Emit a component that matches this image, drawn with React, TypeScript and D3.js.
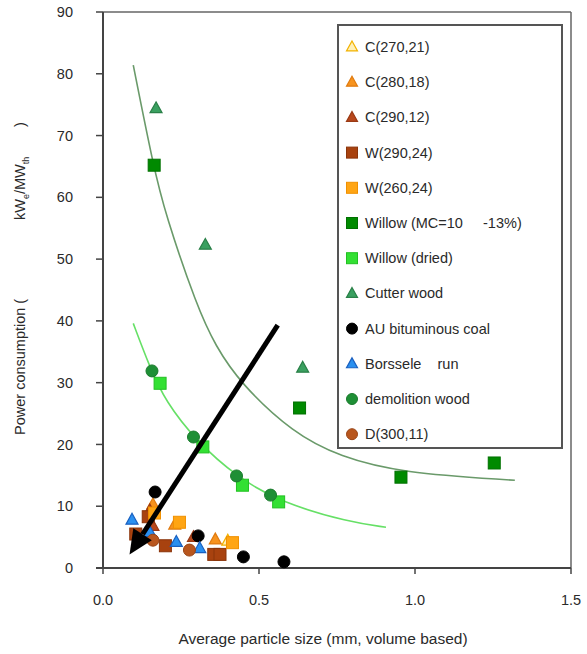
import React from 'react';
import * as d3 from 'd3';

const W = 587;
const H = 654;
const margin = { left: 103, top: 12, right: 16, bottom: 86 };

const xTicks = [0, 0.5, 1.0, 1.5];
const yTicks = [0, 10, 20, 30, 40, 50, 60, 70, 80, 90];

// points, [size, power]
const c270 = [[0.40, 4.4]];
const c280 = [[0.16, 10.3], [0.23, 7.0], [0.36, 4.6]];
const c290 = [[0.15, 9.3], [0.16, 6.8], [0.29, 5.0]];
const w290 = [[0.145, 8.3], [0.105, 5.5], [0.2, 3.6], [0.355, 2.2], [0.375, 2.2]];
const w260 = [[0.165, 8.9], [0.245, 7.4], [0.415, 4.1]];
const willowMC = [[0.164, 65.2], [0.63, 25.9], [0.955, 14.7], [1.254, 17.0]];
const willowDried = [[0.183, 29.9], [0.32, 19.6], [0.447, 13.4], [0.563, 10.7]];
const cutter = [[0.17, 74.4], [0.328, 52.3], [0.64, 32.4]];
const auCoal = [[0.167, 12.3], [0.305, 5.2], [0.45, 1.8], [0.58, 1.0]];
const borssele = [[0.093, 7.8], [0.15, 5.8], [0.235, 4.2], [0.31, 3.2]];
const demolition = [[0.157, 31.9], [0.29, 21.2], [0.428, 14.9], [0.537, 11.8]];
const d300 = [[0.16, 4.5], [0.277, 2.9]];

// trend lines
const trendWet = [[0.097, 81.4], [0.161, 65.2], [0.199, 57.4], [0.302, 42.2], [0.36, 36.0],
  [0.44, 29.9], [0.61, 21.8], [0.76, 18.0], [0.955, 15.4], [1.32, 14.2]];
const trendDry = [[0.097, 39.6], [0.15, 32.5], [0.2, 27.0], [0.3, 20.5], [0.43, 14.7],
  [0.57, 10.6], [0.79, 7.4], [0.907, 6.6]];

const arrowFrom = [0.56, 39.3];
const arrowTo = [0.085, 2.2];

const series = [
  { name: 'C(270,21)', data: c270, shape: 'tri', fill: '#fff0b8', stroke: '#f2b200' },
  { name: 'C(280,18)', data: c280, shape: 'tri', fill: '#f7931e', stroke: '#e07b10' },
  { name: 'C(290,12)', data: c290, shape: 'tri', fill: '#b8481c', stroke: '#9a3a14' },
  { name: 'W(290,24)', data: w290, shape: 'sq', fill: '#a8420f', stroke: '#8a340a' },
  { name: 'W(260,24)', data: w260, shape: 'sq', fill: '#ffa514', stroke: '#f09000' },
  { name: 'Willow (MC=10     -13%)', data: willowMC, shape: 'sq', fill: '#008a00', stroke: '#007000' },
  { name: 'Willow (dried)', data: willowDried, shape: 'sq', fill: '#33e033', stroke: '#22c022' },
  { name: 'Cutter wood', data: cutter, shape: 'tri', fill: '#3aa060', stroke: '#2a8048' },
  { name: 'AU bituminous coal', data: auCoal, shape: 'circ', fill: '#000000', stroke: '#000000' },
  { name: 'Borssele    run', data: borssele, shape: 'tri', fill: '#2a90f0', stroke: '#1a60c0' },
  { name: 'demolition wood', data: demolition, shape: 'circ', fill: '#1e8f35', stroke: '#1a7a2c' },
  { name: 'D(300,11)', data: d300, shape: 'circ', fill: '#b8561e', stroke: '#9a4414' },
];

function Marker({ shape, x, y, fill, stroke, s }) {
  if (shape === 'sq') {
    return <rect x={x - s / 2} y={y - s / 2} width={s} height={s} fill={fill} stroke={stroke} strokeWidth={1} />;
  }
  if (shape === 'circ') {
    return <circle cx={x} cy={y} r={s / 2} fill={fill} stroke={stroke} strokeWidth={1} />;
  }
  const h = s * 0.9;
  const pts = [[x, y - h * 0.6], [x + s / 2, y + h * 0.4], [x - s / 2, y + h * 0.4]];
  return <polygon points={pts.map(p => p.join(',')).join(' ')} fill={fill} stroke={stroke} strokeWidth={1.2} />;
}

export default function App() {
  const x = d3.scaleLinear().domain([0, 1.5]).range([margin.left, W - margin.right]);
  const y = d3.scaleLinear().domain([0, 90]).range([H - margin.bottom, margin.top]);

  const line = d3.line()
    .x(d => x(d[0]))
    .y(d => y(d[1]))
    .curve(d3.curveBasis);

  // arrow geometry from the scales
  const ax1 = x(arrowFrom[0]), ay1 = y(arrowFrom[1]);
  const ax2 = x(arrowTo[0]), ay2 = y(arrowTo[1]);
  const ang = Math.atan2(ay2 - ay1, ax2 - ax1);
  const headLen = 24, headW = 11;
  const bx = ax2 - headLen * Math.cos(ang), by = ay2 - headLen * Math.sin(ang);
  const head = [
    [ax2, ay2],
    [bx + headW * Math.sin(ang), by - headW * Math.cos(ang)],
    [bx - headW * Math.sin(ang), by + headW * Math.cos(ang)],
  ];

  const legX = 338, legY = 25, legW = 224, legH = 423;
  const legStep = 35.2;

  const x0 = x(0), x1 = x(1.5), y0 = y(0), y1 = y(90);

  return (
    <svg width={W} height={H} style={{ display: 'block', position: 'absolute', left: 0, top: 0, background: '#fff' }}
      fontFamily="'Liberation Sans', Arial, sans-serif">
      {/* frame */}
      <line x1={x0} x2={x1} y1={y1} y2={y1} stroke="#666" strokeWidth={1.5} />
      <line x1={x1} x2={x1} y1={y1} y2={y0} stroke="#666" strokeWidth={1.5} />
      <line x1={x0} x2={x0} y1={y1} y2={y0} stroke="#444" strokeWidth={2} />
      <line x1={x0 - 7} x2={x1} y1={y0} y2={y0} stroke="#444" strokeWidth={2} />

      {yTicks.map(t => (
        <g key={'y' + t}>
          <line x1={x0 - 7} x2={x0} y1={y(t)} y2={y(t)} stroke="#444" strokeWidth={1.5} />
          <text x={x0 - 30} y={y(t)} dy="0.35em" textAnchor="end" fontSize={14.5} fill="#2a2a2a">{t}</text>
        </g>
      ))}
      {xTicks.map(t => (
        <g key={'x' + t}>
          <line x1={x(t)} x2={x(t)} y1={y0} y2={y0 + 6} stroke="#444" strokeWidth={1.5} />
          <text x={x(t)} y={y0 + 37} textAnchor="middle" fontSize={14.5} fill="#2a2a2a">{t.toFixed(1)}</text>
        </g>
      ))}

      <text x={323} y={644} textAnchor="middle" fontSize={15.5} fill="#2a2a2a">
        Average particle size (mm, volume based)
      </text>

      <g transform="translate(25,435) rotate(-90)" fill="#2a2a2a" fontSize={14.5}>
        <text x={0} y={0}>Power consumption (</text>
      </g>
      <g transform="translate(25,220) rotate(-90)" fill="#2a2a2a" fontSize={14.5}>
        <text x={0} y={0}>kW<tspan fontSize={9} dy={4}>e</tspan><tspan dy={-4}>/MW</tspan><tspan fontSize={9} dy={4}>th</tspan></text>
      </g>
      <g transform="translate(25,127) rotate(-90)" fill="#2a2a2a" fontSize={14.5}>
        <text x={0} y={0}>)</text>
      </g>

      {/* trend lines */}
      <path d={line(trendWet)} fill="none" stroke="#6a9a6a" strokeWidth={1.6} />
      <path d={line(trendDry)} fill="none" stroke="#66e066" strokeWidth={1.6} />

      {/* points */}
      {series.map(s => s.data.map((d, i) => (
        <Marker key={s.name + i} shape={s.shape} x={x(d[0])} y={y(d[1])} fill={s.fill} stroke={s.stroke} s={12} />
      )))}

      {/* arrow */}
      <line x1={ax1} y1={ay1} x2={bx} y2={by} stroke="#000" strokeWidth={5} />
      <polygon points={head.map(p => p.join(',')).join(' ')} fill="#000" />

      {/* legend */}
      <rect x={legX} y={legY} width={legW} height={legH} fill="#fff" stroke="#555" strokeWidth={2} />
      {series.map((s, i) => {
        const cy = legY + 22 + i * legStep;
        return (
          <g key={'leg' + i}>
            <Marker shape={s.shape} x={352} y={cy} fill={s.fill} stroke={s.stroke} s={11} />
            <text x={365} y={cy} dy="0.35em" fontSize={14.5} fill="#2a2a2a" style={{ whiteSpace: 'pre' }}>{s.name}</text>
          </g>
        );
      })}
    </svg>
  );
}
